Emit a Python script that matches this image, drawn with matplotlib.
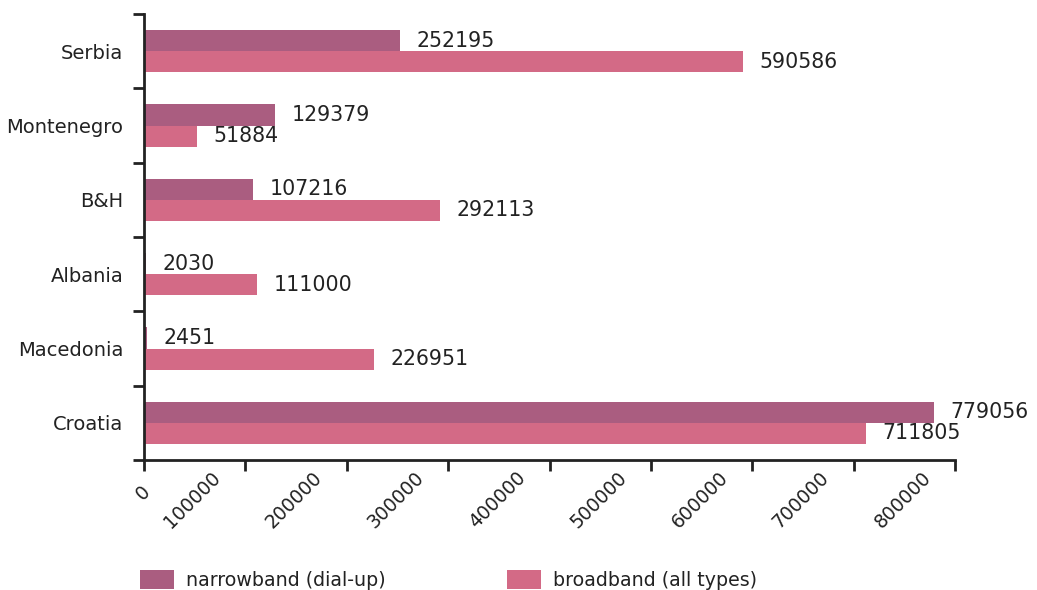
import matplotlib

matplotlib.use("Agg")
import matplotlib.pyplot as plt
import matplotlib.transforms as mtransforms
import numpy as np

countries = ["Serbia", "Montenegro", "B&H", "Albania", "Macedonia", "Croatia"]
narrowband = [252195, 129379, 107216, 2030, 2451, 779056]
broadband = [590586, 51884, 292113, 111000, 226951, 711805]
x_ticks = [0, 100000, 200000, 300000, 400000, 500000, 600000, 700000, 800000]

NARROW_COLOR = "#aa5d80"
BROAD_COLOR = "#d36a86"
INK = "#222222"

plt.rcParams["font.family"] = "DejaVu Sans"

fig = plt.figure(figsize=(10.37, 5.90), dpi=100)
ax = fig.add_axes([0.1389, 0.2203, 0.7823, 0.7559])

y = np.arange(len(countries))
h = 0.285
nb = ax.barh(y - h / 2, narrowband, height=h, color=NARROW_COLOR, label="narrowband (dial-up)")
bb = ax.barh(y + h / 2, broadband, height=h, color=BROAD_COLOR, label="broadband (all types)")
ax.bar_label(nb, labels=[str(v) for v in narrowband], padding=12, fontsize=14.8, color=INK)
ax.bar_label(bb, labels=[str(v) for v in broadband], padding=12, fontsize=14.8, color=INK)

ax.set_ylim(len(countries) - 0.5, -0.5)
ax.set_xlim(0, 800000)

# category names at the centres, tick marks on the boundaries between groups
ax.set_yticks(y)
ax.set_yticklabels(countries, fontsize=14, color=INK)
ax.set_yticks(np.arange(len(countries) + 1) - 0.5, minor=True)
ax.tick_params(axis="y", which="major", length=0, pad=15)
ax.tick_params(axis="y", which="minor", length=8, width=2, color=INK)

ax.set_xticks(x_ticks)
ax.set_xticklabels([str(t) for t in x_ticks], fontsize=13.5, color=INK,
                   rotation=45, ha="right", va="center", rotation_mode="anchor")
ax.tick_params(axis="x", length=8, width=2, color=INK, pad=4)
# longer labels sit further left and higher under their tick
for lbl in ax.get_xticklabels():
    n = len(lbl.get_text())
    shift = mtransforms.ScaledTranslation((3 - 6.1 * (n - 1)) / 100, (-12 + 2.8 * (n - 1)) / 100,
                                          fig.dpi_scale_trans)
    lbl.set_transform(lbl.get_transform() + shift)

for side in ("top", "right"):
    ax.spines[side].set_visible(False)
for side in ("left", "bottom"):
    ax.spines[side].set_linewidth(2)
    ax.spines[side].set_color(INK)

fig.legend(loc="lower left", bbox_to_anchor=(140 / 1037, 0.0), ncol=2, frameon=False,
           fontsize=13.7, handlelength=1.8, handleheight=1.2, handletextpad=0.6,
           columnspacing=6.4, borderpad=0, borderaxespad=0, labelcolor=INK)

fig.savefig("out.png", dpi=100)
